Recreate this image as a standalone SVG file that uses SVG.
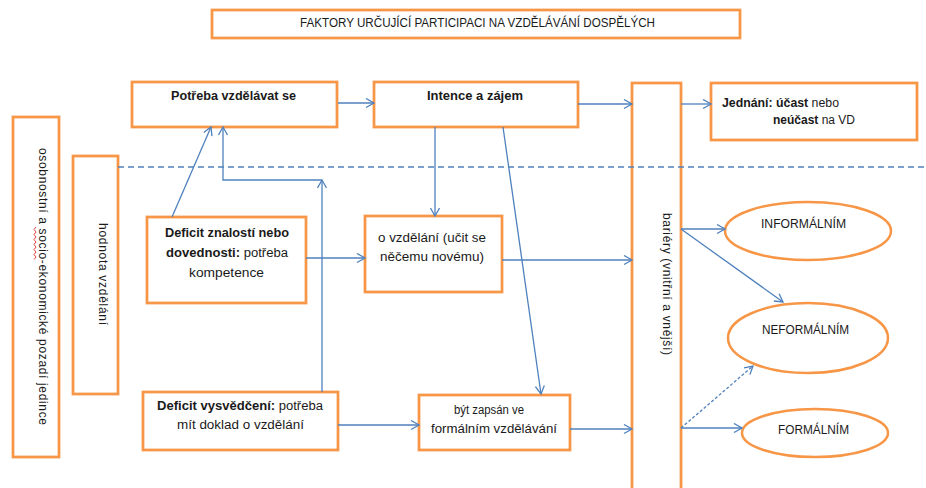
<svg xmlns="http://www.w3.org/2000/svg" width="926" height="488" viewBox="0 0 926 488">
  <style>
    .box { fill: #ffffff; stroke: #F79646; stroke-width: 2.75; }
    .ell { fill: #ffffff; stroke: #F79646; stroke-width: 2.5; }
    .t { font-family: "Liberation Sans", Arial, sans-serif; font-size: 12px; fill: #1a1a1a; }
    .b { font-weight: bold; }
    .conn { fill: none; stroke: #4F81BD; stroke-width: 1.3; }
    .arr { marker-end: url(#arrow); }
    .dash { stroke-dasharray: 6 4; }
    .fine { stroke-dasharray: 3 2; }
  </style>
  <defs>
    <marker id="arrow" markerUnits="userSpaceOnUse" markerWidth="12" markerHeight="12" refX="9" refY="5" orient="auto">
      <path d="M1,0.5 L9,5 L1,9.5" fill="none" stroke="#4F81BD" stroke-width="1.3"/>
    </marker>
  </defs>

  <rect width="926" height="488" fill="#ffffff"/>

  <g id="title">
    <rect class="box" x="212" y="10" width="528" height="28"/>
    <text class="t" x="300" y="27" font-size="11.5" textLength="355" lengthAdjust="spacingAndGlyphs">FAKTORY URČUJÍCÍ PARTICIPACI NA VZDĚLÁVÁNÍ DOSPĚLÝCH</text>
  </g>

  <g id="pozadi">
    <rect class="box" x="13" y="117" width="46" height="340"/>
    <!-- spelling squiggle under "socio" -->
    <path d="M36,227 l-2,2.5 l2,2.5 l-2,2.5 l2,2.5 l-2,2.5 l2,2.5 l-2,2.5 l2,2.5 l-2,2.5 l2,2.5 l-2,2.5 l2,2.5 l-2,2.5" fill="none" stroke="#e03030" stroke-width="0.9"/>
    <text class="t" transform="translate(38.5,148) rotate(90)" textLength="277" lengthAdjust="spacing">osobnostní a socio-ekonomické pozadí jedince</text>
  </g>

  <g id="hodnota">
    <rect class="box" x="73" y="156" width="45" height="238"/>
    <text class="t" transform="translate(98.5,223) rotate(90)" textLength="102" lengthAdjust="spacing">hodnota vzdělání</text>
  </g>

  <g id="potreba">
    <rect class="box" x="132" y="82" width="205" height="45"/>
    <text class="t b" x="171" y="100" textLength="125" lengthAdjust="spacingAndGlyphs">Potřeba vzdělávat se</text>
  </g>

  <g id="intence">
    <rect class="box" x="374" y="82" width="204" height="45"/>
    <text class="t b" x="427" y="100" textLength="96" lengthAdjust="spacingAndGlyphs">Intence a zájem</text>
  </g>

  <g id="bariery">
    <rect class="box" x="632" y="83" width="49" height="420"/>
    <text class="t" transform="translate(663,213) rotate(90)" textLength="142" lengthAdjust="spacing">bariéry (vnitřní a vnější)</text>
  </g>

  <g id="jednani">
    <rect class="box" x="711" y="83" width="206" height="57"/>
    <text class="t" x="722" y="107" textLength="117" lengthAdjust="spacingAndGlyphs"><tspan class="b">Jednání: účast</tspan> nebo</text>
    <text class="t" x="773" y="124" textLength="82" lengthAdjust="spacingAndGlyphs"><tspan class="b">neúčast</tspan> na VD</text>
  </g>

  <g id="deficit-znalosti">
    <rect class="box" x="147" y="217" width="159" height="86"/>
    <text class="t b" x="165" y="237" textLength="124" lengthAdjust="spacingAndGlyphs">Deficit znalostí nebo</text>
    <text class="t" x="166" y="257" textLength="122" lengthAdjust="spacingAndGlyphs"><tspan class="b">dovednosti:</tspan> potřeba</text>
    <text class="t" x="189" y="277" textLength="75" lengthAdjust="spacingAndGlyphs">kompetence</text>
  </g>

  <g id="o-vzdelani">
    <rect class="box" x="365" y="216" width="137" height="76"/>
    <text class="t" x="378" y="242" textLength="108" lengthAdjust="spacingAndGlyphs">o vzdělání (učit se</text>
    <text class="t" x="380" y="261" textLength="104" lengthAdjust="spacingAndGlyphs">něčemu novému)</text>
  </g>

  <g id="deficit-vysvedceni">
    <rect class="box" x="143" y="392" width="195" height="58"/>
    <text class="t" x="157" y="410" textLength="166" lengthAdjust="spacingAndGlyphs"><tspan class="b">Deficit vysvědčení:</tspan> potřeba</text>
    <text class="t" x="177" y="429" textLength="127" lengthAdjust="spacingAndGlyphs">mít doklad o vzdělání</text>
  </g>

  <g id="zapsan">
    <rect class="box" x="419" y="395" width="151" height="55"/>
    <text class="t" x="454" y="414" textLength="70" lengthAdjust="spacingAndGlyphs">být zapsán ve</text>
    <text class="t" x="431" y="433" textLength="126" lengthAdjust="spacingAndGlyphs">formálním vzdělávání</text>
  </g>

  <g id="informalnim">
    <ellipse class="ell" cx="808" cy="231" rx="83" ry="29"/>
    <text class="t" x="761" y="228" textLength="85" lengthAdjust="spacingAndGlyphs">INFORMÁLNÍM</text>
  </g>

  <g id="neformalnim">
    <ellipse class="ell" cx="808" cy="338" rx="80" ry="35"/>
    <text class="t" x="762" y="334" textLength="87" lengthAdjust="spacingAndGlyphs">NEFORMÁLNÍM</text>
  </g>

  <g id="formalnim">
    <ellipse class="ell" cx="815" cy="433" rx="73" ry="24"/>
    <text class="t" x="778" y="434" textLength="71" lengthAdjust="spacingAndGlyphs">FORMÁLNÍM</text>
  </g>

  <g id="connectors">
    <line class="conn dash" x1="118" y1="167" x2="926" y2="167"/>
    <path class="conn arr" d="M338,103 H374"/>
    <path class="conn arr" d="M578,104 H632"/>
    <path class="conn arr" d="M681,104 H711"/>
    <path class="conn arr" d="M435,127 V216"/>
    <path class="conn arr" d="M503,127 L541,394"/>
    <path class="conn arr" d="M172,217 L211,127"/>
    <path class="conn arr" d="M322,392 V180"/>
    <path class="conn arr" d="M322,180 H223 V127"/>
    <path class="conn arr" d="M306,258 H365"/>
    <path class="conn arr" d="M502,260 H632"/>
    <path class="conn arr" d="M338,425 H419"/>
    <path class="conn arr" d="M570,429 H632"/>
    <path class="conn arr" d="M681,229 H725"/>
    <path class="conn arr" d="M681,229 L783,302"/>
    <path class="conn arr fine" d="M681,428 L753,366"/>
    <path class="conn arr" d="M681,428 H742"/>
  </g>
</svg>
